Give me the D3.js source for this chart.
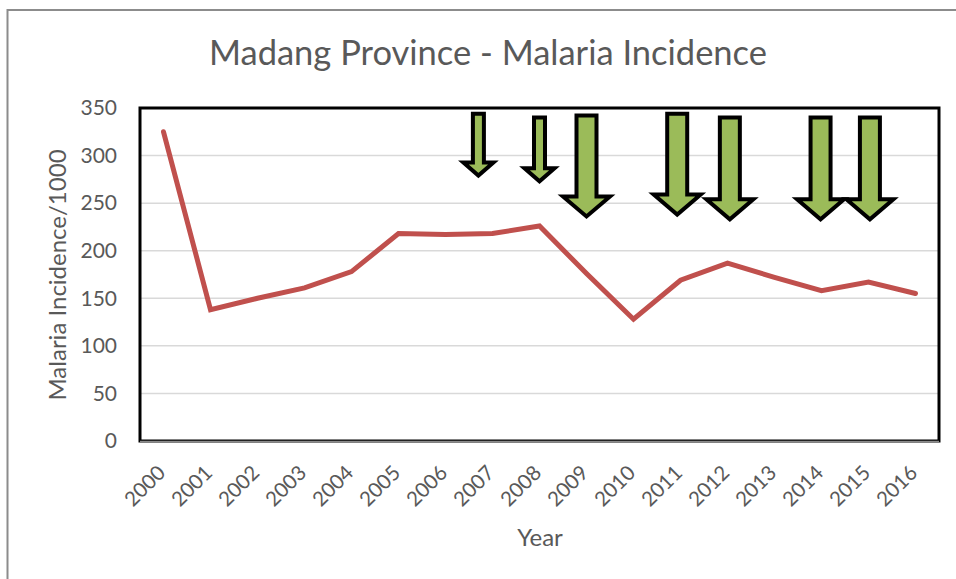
<!DOCTYPE html>
<html>
<head>
<meta charset="utf-8">
<script src="https://cdn.jsdelivr.net/npm/d3@7"></script>
<style>
  html, body { margin: 0; padding: 0; background: #fff; }
  svg { display: block; }
  text { font-family: Lato, "Open Sans", "Liberation Sans", sans-serif; fill: #595959; }
</style>
</head>
<body>
<svg id="chart" width="956" height="579"></svg>
<script>
// ---- data ----
const years = ["2000","2001","2002","2003","2004","2005","2006","2007","2008","2009","2010","2011","2012","2013","2014","2015","2016"];
const incidence = [325, 138, 150, 161, 178, 218, 217, 218, 226, 176, 128, 169, 187, 172, 158, 167, 155];
const yTicks = [0, 50, 100, 150, 200, 250, 300, 350];
// intervention arrows (annotation): position in years, top & tip in incidence units
const arrowYears = [2006.7, 2008.0, 2009.0, 2010.93, 2012.05, 2013.98, 2015.03];
const arrowTop   = [344, 340, 342, 344, 340, 340, 340];
const arrowTip   = [279, 273, 236, 238, 233, 233, 233];
const arrowSize  = ["small", "small", "large", "large", "large", "large", "large"];
const titleText = "Madang Province - Malaria Incidence";
const yTitle = "Malaria Incidence/1000";
const xTitle = "Year";

// ---- layout ----
const svg = d3.select("#chart");
const plot = { left: 140, right: 939, top: 108, bottom: 441 };

const x = d3.scaleBand().domain(years).range([plot.left, plot.right]);
const y = d3.scaleLinear().domain([0, 350]).range([plot.bottom, plot.top]);
const xc = d => x(d) + x.bandwidth() / 2;
const xYear = yr => xc(years[0]) + (yr - +years[0]) * x.step();

// outer chart border (only top/left visible)
svg.append("rect")
  .attr("x", 7.5).attr("y", 10).attr("width", 1000).attr("height", 1000)
  .attr("fill", "none").attr("stroke", "#8c8c8c").attr("stroke-width", 2);

// title
svg.append("text")
  .attr("x", 488).attr("y", 65)
  .attr("text-anchor", "middle")
  .style("font-size", "34.5px")
  .text(titleText);

// gridlines
svg.append("g").selectAll("line")
  .data(yTicks.filter(t => t > 0 && t < 350))
  .join("line")
  .attr("x1", plot.left).attr("x2", plot.right)
  .attr("y1", d => y(d)).attr("y2", d => y(d))
  .attr("stroke", "#d9d9d9").attr("stroke-width", 1.5);

// plot border
svg.append("rect")
  .attr("x", plot.left).attr("y", plot.top)
  .attr("width", plot.right - plot.left).attr("height", plot.bottom - plot.top)
  .attr("fill", "none").attr("stroke", "#000").attr("stroke-width", 3);

// bottom axis line (gray)
svg.append("line")
  .attr("x1", plot.left).attr("x2", plot.right)
  .attr("y1", plot.bottom + 0.5).attr("y2", plot.bottom + 0.5)
  .attr("stroke", "#8a8a8a").attr("stroke-width", 1.5);

// y axis labels
svg.append("g").selectAll("text")
  .data(yTicks)
  .join("text")
  .attr("x", 117).attr("y", d => y(d))
  .attr("dy", "0.35em")
  .attr("text-anchor", "end")
  .style("font-size", "21px")
  .text(d => d);

// x axis labels
svg.append("g").selectAll("text")
  .data(years)
  .join("text")
  .attr("transform", d => `translate(${xc(d) - 2},469) rotate(-45)`)
  .attr("dy", "0.35em")
  .attr("text-anchor", "end")
  .style("font-size", "20.5px")
  .text(d => d);

// axis titles
svg.append("text")
  .attr("transform", "translate(58,275) rotate(-90)")
  .attr("dy", "0.35em")
  .attr("text-anchor", "middle")
  .style("font-size", "24px")
  .text(yTitle);

svg.append("text")
  .attr("x", 540).attr("y", 546)
  .attr("text-anchor", "middle")
  .style("font-size", "24px")
  .text(xTitle);

// data line
const line = d3.line()
  .x((d, i) => xc(years[i]))
  .y(d => y(d));

svg.append("path")
  .datum(incidence)
  .attr("d", line)
  .attr("fill", "none")
  .attr("stroke", "#c0504d")
  .attr("stroke-width", 5)
  .attr("stroke-linejoin", "miter")
  .attr("stroke-linecap", "round");

// arrows
const arrowDims = {
  small: { hw: 5.5, hh: 15, hl: 13 },
  large: { hw: 10, hh: 23.5, hl: 20 }
};
const arrowPath = (i) => {
  const cx = xYear(arrowYears[i]);
  const top = y(arrowTop[i]);
  const tip = y(arrowTip[i]);
  const s = arrowDims[arrowSize[i]];
  const hs = tip - s.hl;
  return `M${cx - s.hw},${top} L${cx + s.hw},${top} L${cx + s.hw},${hs} L${cx + s.hh},${hs} L${cx},${tip} L${cx - s.hh},${hs} L${cx - s.hw},${hs} Z`;
};
svg.append("g").selectAll("path")
  .data(arrowYears.map((d, i) => i))
  .join("path")
  .attr("d", i => arrowPath(i))
  .attr("fill", "#9bbb59")
  .attr("stroke", "#000")
  .attr("stroke-width", 4)
  .attr("stroke-linejoin", "miter");
</script>
</body>
</html>
